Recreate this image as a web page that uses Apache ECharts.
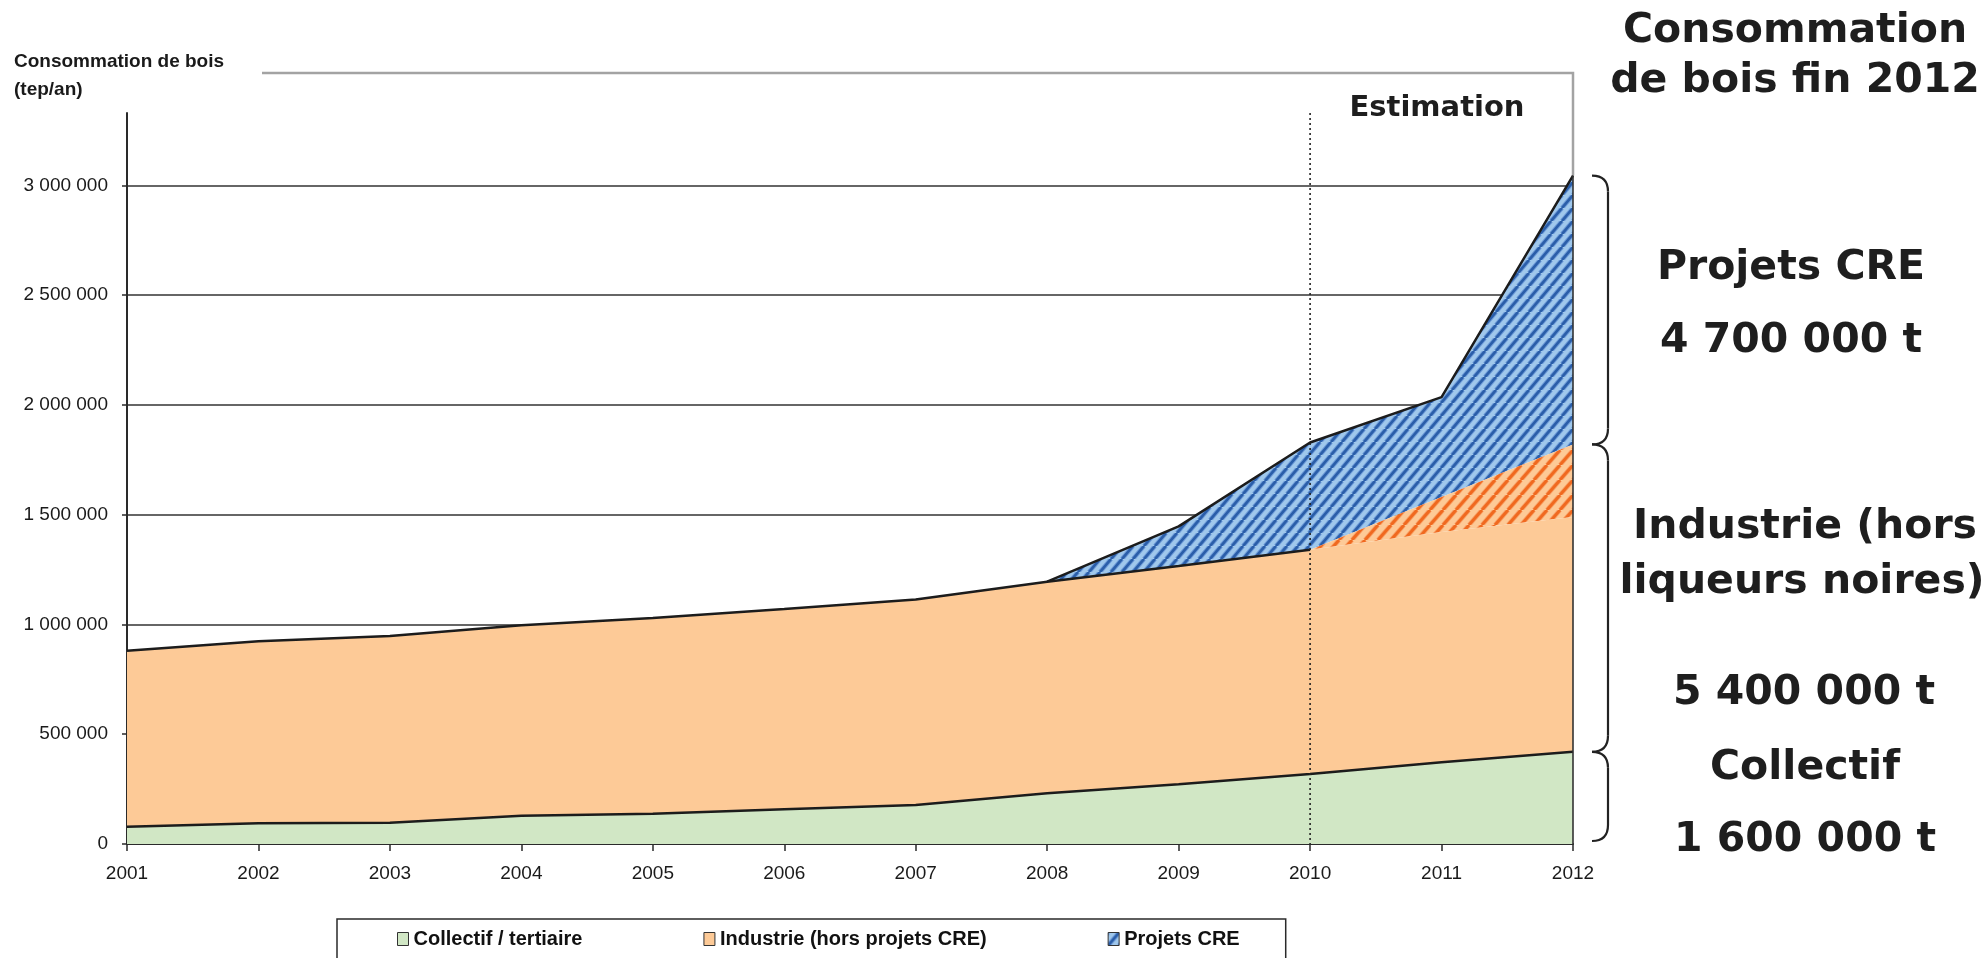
<!DOCTYPE html>
<html>
<head>
<meta charset="utf-8">
<script src="https://cdn.jsdelivr.net/npm/echarts@6/dist/echarts.min.js"></script>
<style>
html,body{margin:0;padding:0;background:#fff;}
#chart{width:1986px;height:958px;}
</style>
</head>
<body>
<div id="chart"></div>
<script>
// ---------- DATA ----------
const years = ['2001','2002','2003','2004','2005','2006','2007','2008','2009','2010','2011','2012'];
const collectif = [79000, 94000, 97000, 129000, 138000, 158000, 178000, 231000, 272000, 319000, 372000, 420000];
const industrie = [801000, 830000, 850000, 868000, 892000, 912000, 936000, 964000, 994000, 1021000, 1049000, 1070000];
const industrieEstimation = [null, null, null, null, null, null, null, null, null, 0, 160000, 330000];
const projetsCRE = [null, null, null, null, null, null, null, 0, 181000, 489000, 455000, 1225000];
// zero-height edge drawn on top of the measured part of "Industrie" (outline up to 2010)
const industrieEdge = [0, 0, 0, 0, 0, 0, 0, 0, 0, 0, null, null];
const yTicks = [0, 500000, 1000000, 1500000, 2000000, 2500000, 3000000];
const yMax = 3330000;
const estimationYear = '2010';
const seriesNames = ['Collectif / tertiaire', 'Industrie (hors projets CRE)', 'Projets CRE'];
const axisTitle = ['Consommation de bois', '(tep/an)'];
const sideTitle = ['Consommation', 'de bois fin 2012'];
const sideBlocks = [
  ['Projets CRE', '4 700 000 t'],
  ['Industrie (hors', 'liqueurs noires)', '5 400 000 t'],
  ['Collectif', '1 600 000 t']
];

// ---------- PATTERNS ----------
function stripes(bg, fgSoft, fg, w, h, wSoft, lw) {
  const c = document.createElement('canvas');
  c.width = w; c.height = h;
  const g = c.getContext('2d');
  g.fillStyle = bg; g.fillRect(0, 0, w, h);
  [[fgSoft, wSoft], [fg, lw]].forEach(([col, width]) => {
    g.strokeStyle = col; g.lineWidth = width;
    g.beginPath();
    for (const k of [-1, 0, 1]) { g.moveTo(k * w, h); g.lineTo(k * w + w, 0); }
    g.stroke();
  });
  return c;
}
const bluePat = stripes('#a0c8ec', '#6e9bd8', '#2a5ea9', 11, 13, 4.6, 2.6);
const orangePat = stripes('#fdca97', '#f8a066', '#f0691f', 13, 15, 4.6, 2.8);

const GREEN = '#d1e7c5';
const PEACH = '#fdca97';
const EDGE = '#1c1c1c';

function fmt(v) { return String(v).replace(/\B(?=(\d{3})+(?!\d))/g, ' '); }

const chart = echarts.init(document.getElementById('chart'), null, {renderer: 'canvas'});

const base = {type: 'line', stack: 'total', symbol: 'none', showSymbol: false, silent: true,
  emphasis: {disabled: true}, animation: false};

chart.setOption({
  animation: false,
  backgroundColor: '#ffffff',
  grid: {left: 127, right: 413, top: 113, bottom: 114, containLabel: false, outerBoundsMode: 'none'},
  xAxis: {
    type: 'category', data: years, boundaryGap: false,
    axisLine: {lineStyle: {color: '#2a2a2a', width: 2}},
    axisTick: {show: true, length: 7, lineStyle: {color: '#2a2a2a', width: 1.5}},
    axisLabel: {fontFamily: 'Liberation Sans', fontSize: 19, color: '#1a1a1a', margin: 20},
    splitLine: {show: false}
  },
  yAxis: {
    type: 'value', min: 0, max: yMax, interval: 500000,
    axisLine: {show: true, lineStyle: {color: '#2a2a2a', width: 2}},
    axisTick: {show: true, length: 5, customValues: yTicks, lineStyle: {color: '#2a2a2a', width: 1.5}},
    axisLabel: {fontFamily: 'Liberation Sans', fontSize: 19, color: '#1a1a1a', margin: 19,
      customValues: yTicks, formatter: v => fmt(v)},
    splitLine: {show: true, showMinLine: false, lineStyle: {color: '#333', width: 1.6}}
  },
  legend: {
    data: [
      {name: seriesNames[0], icon: 'rect', itemStyle: {color: GREEN, borderColor: '#333', borderWidth: 1}},
      {name: seriesNames[1], icon: 'rect', itemStyle: {color: PEACH, borderColor: '#333', borderWidth: 1}},
      {name: seriesNames[2], icon: 'rect', itemStyle: {color: {image: bluePat, repeat: 'repeat'}, borderColor: '#333', borderWidth: 1}}
    ],
    left: 337, top: 919,
    padding: [10, 46, 10, 60],
    itemGap: 121, itemWidth: 11, itemHeight: 13,
    borderColor: '#2a2a2a', borderWidth: 1.5,
    selectedMode: false,
    textStyle: {fontFamily: 'Liberation Sans', fontWeight: 'bold', fontSize: 20, color: '#111'}
  },
  series: [
    Object.assign({}, base, {
      name: seriesNames[0], data: collectif, z: 5,
      itemStyle: {color: GREEN},
      lineStyle: {color: EDGE, width: 2.5},
      areaStyle: {color: GREEN, opacity: 1}
    }),
    Object.assign({}, base, {
      name: seriesNames[1], data: industrie, z: 4,
      itemStyle: {color: PEACH},
      lineStyle: {color: PEACH, width: 0, opacity: 0},
      areaStyle: {color: PEACH, opacity: 1}
    }),
    Object.assign({}, base, {
      name: 'edge', data: industrieEdge, z: 6,
      lineStyle: {color: EDGE, width: 2.5}
    }),
    Object.assign({}, base, {
      name: 'Industrie (estimation)', data: industrieEstimation, z: 3,
      lineStyle: {width: 0, opacity: 0},
      areaStyle: {color: {image: orangePat, repeat: 'repeat'}, opacity: 1}
    }),
    Object.assign({}, base, {
      name: seriesNames[2], data: projetsCRE, z: 2,
      itemStyle: {color: '#a0c8ec'},
      lineStyle: {color: EDGE, width: 2.5},
      areaStyle: {color: {image: bluePat, repeat: 'repeat'}, opacity: 1}
    })
  ]
});

// ---------- ANNOTATIONS (positions derived from the axes) ----------
const last = years.length - 1;
const vCollectif = collectif[last];
const vIndustrie = vCollectif + industrie[last] + (industrieEstimation[last] || 0);
const vTotal = vIndustrie + (projetsCRE[last] || 0);
const X12 = chart.convertToPixel({xAxisIndex: 0}, years[last]);
const XE = chart.convertToPixel({xAxisIndex: 0}, estimationYear);
const Y = v => chart.convertToPixel({yAxisIndex: 0}, v);
const y0 = Y(0), yC = Y(vCollectif), yI = Y(vIndustrie), yT = Y(vTotal), yTop = Y(yMax);

function brace(yA, yB) {
  const xl = X12 + 19, xr = X12 + 35, r = 16;
  const st = {stroke: '#222', lineWidth: 2.2, fill: null};
  return [
    {type: 'bezierCurve', silent: true, shape: {x1: xl, y1: yA, cpx1: xr, cpy1: yA, x2: xr, y2: yA + r}, style: st},
    {type: 'line', silent: true, shape: {x1: xr, y1: yA + r, x2: xr, y2: yB - r}, style: st},
    {type: 'bezierCurve', silent: true, shape: {x1: xr, y1: yB - r, cpx1: xr, cpy1: yB, x2: xl, y2: yB}, style: st}
  ];
}
function txt(t, x, y, font) {
  return {
    type: 'text', silent: true, x: x, y: y,
    style: {text: t, font: font, fill: '#1e1e1e', align: 'center', verticalAlign: 'middle'}
  };
}
const bigFont = 'bold 41px "DejaVu Sans"';
const graphics = [
  // estimation separator (dotted) at 2010
  {type: 'line', silent: true, z: 50, shape: {x1: XE, y1: yTop, x2: XE, y2: y0},
   style: {stroke: '#222', lineWidth: 1.6, lineDash: [2, 3]}},
  // frame above the estimation zone
  {type: 'polyline', silent: true, shape: {points: [[262, 73], [X12, 73], [X12, yT]]},
   style: {stroke: '#a3a3a3', lineWidth: 2.5, fill: null}},
  {type: 'line', silent: true, z: 10, shape: {x1: X12, y1: yT, x2: X12, y2: y0},
   style: {stroke: '#333', lineWidth: 1.6}},
  // axis title
  {type: 'text', silent: true, x: 14, y: 62,
   style: {text: axisTitle[0], font: 'bold 19px "Liberation Sans"', fill: '#1a1a1a', align: 'left', verticalAlign: 'middle'}},
  {type: 'text', silent: true, x: 14, y: 90,
   style: {text: axisTitle[1], font: 'bold 19px "Liberation Sans"', fill: '#1a1a1a', align: 'left', verticalAlign: 'middle'}},
  // estimation label
  txt('Estimation', 1437, 108, 'bold 29px "DejaVu Sans"'),
  // right side
  txt(sideTitle[0], 1795, 31, bigFont),
  txt(sideTitle[1], 1795, 81, bigFont),
  txt(sideBlocks[0][0], 1791, 268, bigFont),
  txt(sideBlocks[0][1], 1791, 341, bigFont),
  txt(sideBlocks[1][0], 1805, 527, bigFont),
  txt(sideBlocks[1][1], 1802, 582, bigFont),
  txt(sideBlocks[1][2], 1804, 693, bigFont),
  txt(sideBlocks[2][0], 1805, 768, bigFont),
  txt(sideBlocks[2][1], 1805, 840, bigFont)
].concat(brace(yT, yI), brace(yI, yC), brace(yC, y0 - 3));
chart.setOption({graphic: graphics});
</script>
</body>
</html>
